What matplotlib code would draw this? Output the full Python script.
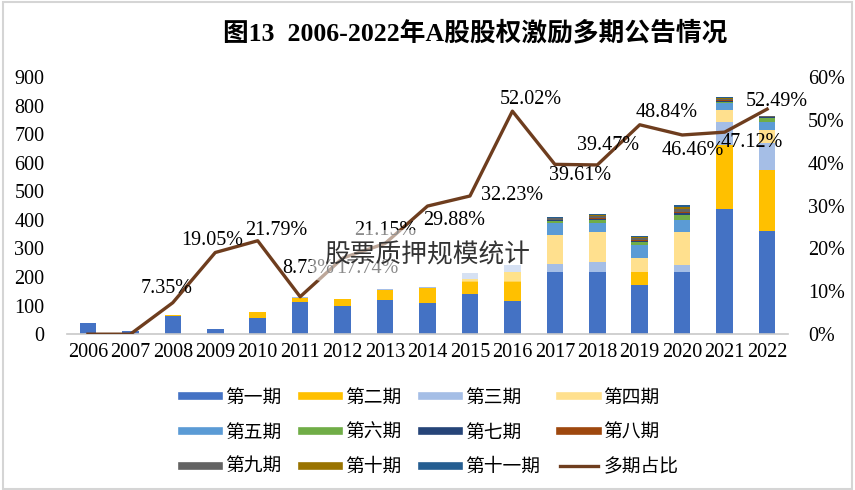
#!/usr/bin/env python3
"""Recreate: 2006-2022 A-share equity incentive multi-period announcements."""

import matplotlib
matplotlib.use("Agg")
import matplotlib.pyplot as plt
from matplotlib.lines import Line2D
from matplotlib.patches import Rectangle
from matplotlib.ticker import PercentFormatter
import numpy as np

SERIF = ["Liberation Serif", "Noto Sans CJK SC"]
SANS = ["Noto Sans CJK SC", "DejaVu Sans"]

years = ["2006", "2007", "2008", "2009", "2010", "2011", "2012", "2013", "2014",
         "2015", "2016", "2017", "2018", "2019", "2020", "2021", "2022"]

# announcement counts by period (stacked)
p1 = [38, 10, 64, 18, 58, 113, 99, 120, 110, 140, 117, 218, 218, 172, 218, 438, 361]
p2 = [0, 0, 2, 0, 20, 13, 23, 33, 53, 52, 101, 0, 0, 46, 0, 224, 213]
p3 = [0, 0, 0, 0, 0, 3, 0, 4, 2, 21, 24, 27, 33, 0, 23, 82, 94]
p4 = [0, 0, 0, 0, 0, 0, 0, 0, 0, 0, 0, 101, 105, 47, 117, 41, 46]
p5 = [0, 0, 0, 0, 0, 0, 0, 0, 0, 0, 0, 42, 32, 47, 40, 23, 30]
p6 = [0, 0, 0, 0, 0, 0, 0, 0, 0, 0, 0, 8, 12, 10, 20, 5, 14]
p7 = [0, 0, 0, 0, 0, 0, 0, 0, 0, 0, 0, 2, 3, 3, 5, 3, 2]
p8 = [0, 0, 0, 0, 0, 0, 0, 0, 0, 0, 0, 2, 3, 3, 5, 4, 1]
p9 = [0, 0, 0, 0, 0, 0, 0, 0, 0, 0, 0, 5, 6, 8, 10, 3, 3]
p10 = [0, 0, 0, 0, 0, 0, 0, 0, 0, 0, 0, 3, 4, 4, 6, 2, 0]
p11 = [0, 0, 0, 0, 0, 0, 0, 0, 0, 0, 0, 3, 4, 4, 7, 6, 1]

# share of multi-period announcements (%)
multi_pct = [0, 0, 7.35, 19.05, 21.79, 8.73, 17.74, 21.15, 29.88, 32.23,
             52.02, 39.61, 39.47, 48.84, 46.46, 47.12, 52.49]

period_names = ["第一期", "第二期", "第三期", "第四期", "第五期", "第六期",
                "第七期", "第八期", "第九期", "第十期", "第十一期"]
period_colors = ["#4472C4", "#FFC000", "#A5BEE6", "#FFE08E", "#5B9BD5", "#70AD47",
                 "#264478", "#9E480E", "#636363", "#997300", "#255E91"]
line_color = "#6E3D1E"

# label offsets (pixels) for the percentage annotations
label_offsets = [None, None, (-6, 14), (-3, 12), (19, 10), (8, 28), (25, -10),
                 (0, 13), (27, -14), (42, 0), (18, 12), (25, -11), (11, 19),
                 (27, 12), (11, -16), (27, -10), (10, 8)]


def main():
    fig = plt.figure(figsize=(8.55, 4.9), dpi=100)
    ax = fig.add_axes([0.078, 0.318, 0.844, 0.525])

    x = np.arange(len(years))
    series = [p1, p2, p3, p4, p5, p6, p7, p8, p9, p10, p11]
    bottom = np.zeros(len(years))
    for vals, color in zip(series, period_colors):
        ax.bar(x, vals, width=0.39, bottom=bottom, color=color, zorder=2)
        bottom += np.array(vals)

    ax.set_xlim(-0.5, len(years) - 0.5)
    ax.set_ylim(0, 900)
    ax.set_yticks(range(0, 901, 100))
    ax.set_xticks(x)
    ax.set_xticklabels(years, family=SERIF, fontsize=14.5)
    for lab in ax.get_yticklabels():
        lab.set_family(SERIF)
        lab.set_fontsize(14.5)
    ax.tick_params(axis="y", length=0, pad=16)
    ax.tick_params(axis="x", length=0, pad=6)
    for s in ("top", "left", "right"):
        ax.spines[s].set_visible(False)
    ax.spines["bottom"].set_color("#C8C8C8")
    ax.spines["bottom"].set_linewidth(1.2)

    ax2 = ax.twinx()
    ax2.plot(x, multi_pct, color=line_color, linewidth=2.4, zorder=3)
    ax2.set_ylim(0, 60)
    ax2.set_yticks(range(0, 61, 10))
    ax2.yaxis.set_major_formatter(PercentFormatter(decimals=0))
    for lab in ax2.get_yticklabels():
        lab.set_family(SERIF)
        lab.set_fontsize(14.5)
    ax2.tick_params(length=0, pad=14)
    for s in ("top", "left", "right", "bottom"):
        ax2.spines[s].set_visible(False)

    for i, (v, off) in enumerate(zip(multi_pct, label_offsets)):
        if off is None:
            continue
        ax2.annotate(f"{v:.2f}%", xy=(x[i], v), xytext=off,
                     textcoords="offset pixels", ha="center", va="center",
                     family=SERIF, fontsize=14.5, color="black", zorder=4)

    # watermark
    fig.text(0.5, 0.478, "股票质押规模统计", family=SANS, fontsize=18.5,
             color="#333333", ha="center", va="center", zorder=10,
             bbox=dict(boxstyle="round,pad=0.5", facecolor="white",
                       edgecolor="none", alpha=0.55))

    fig.text(0.556, 0.932, "图13  2006-2022年A股股权激励多期公告情况",
             family=SERIF, fontsize=18.5, fontweight="bold",
             ha="center", va="center")

    handles = [Line2D([0], [0], color=c, linewidth=5.5) for c in period_colors]
    handles.append(Line2D([0], [0], color=line_color, linewidth=2.4))
    labels = period_names + ["多期占比"]
    # legend fills column-wise; reorder so entries read across rows
    ncol, nrow = 4, 3
    order = [r * ncol + c for c in range(ncol) for r in range(nrow)]
    fig.legend([handles[k] for k in order], [labels[k] for k in order],
               loc="upper center", bbox_to_anchor=(0.503, 0.245),
               ncol=ncol, frameon=False, prop={"family": SANS, "size": 13.5},
               handlelength=2.0, handletextpad=0.3, columnspacing=1.1,
               labelspacing=0.73)

    fig.patches.append(Rectangle((0.004, 0.002), 0.993, 0.994,
                                 transform=fig.transFigure, fill=False,
                                 edgecolor="#D5D5D5", linewidth=1.5))

    fig.savefig("out.png", dpi=100)


if __name__ == "__main__":
    main()
